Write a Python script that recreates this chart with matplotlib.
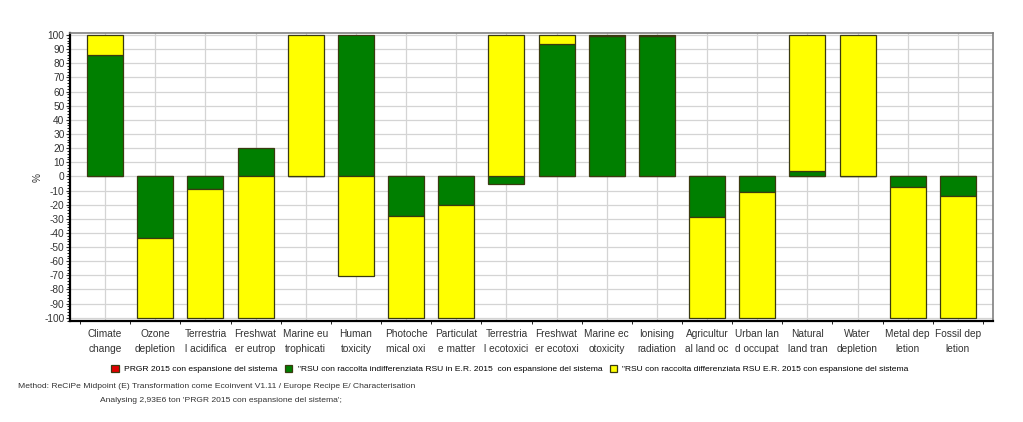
import numpy as np
import matplotlib
matplotlib.use("Agg")
import matplotlib.pyplot as plt
from matplotlib.ticker import MultipleLocator

categories = ["Climate\nchange", "Ozone\ndepletion", "Terrestria\nl acidifica",
              "Freshwat\ner eutrop", "Marine eu\ntrophicati", "Human\ntoxicity",
              "Photoche\nmical oxi", "Particulat\ne matter", "Terrestria\nl ecotoxici",
              "Freshwat\ner ecotoxi", "Marine ec\notoxicity", "Ionising\nradiation",
              "Agricultur\nal land oc", "Urban lan\nd occupat", "Natural\nland tran",
              "Water\ndepletion", "Metal dep\nletion", "Fossil dep\nletion"]

# % contributions per series
prgr = [0, 0, 0, 0, 0, 0, 0, 0, 0, 0, 0, 0, 0, 0, 0, 0, 0, 0]
rsu_indiff = [86, -43.6, -9.2, 20, 0, 100, -28.3, -20.5, -5.6,
              93.8, 99.6, 99, -28.7, -11, 3.8, 0, -7.8, -13.9]
rsu_diff = [14, -56.4, -90.8, -100, 100, -70.4, -71.7, -79.5, 100,
            6.2, 0.4, 1, -71.3, -89, 96.2, 100, -92.2, -86.1]

series = [
    ("PRGR 2015 con espansione del sistema", prgr, "#e00000"),
    ("\"RSU con raccolta indifferenziata RSU in E.R. 2015  con espansione del sistema", rsu_indiff, "#007f00"),
    ("\"RSU con raccolta differenziata RSU E.R. 2015 con espansione del sistema", rsu_diff, "#ffff00"),
]

plt.rcParams['font.family'] = ['Liberation Sans', 'DejaVu Sans']
plt.rcParams['axes.unicode_minus'] = False
fig = plt.figure(figsize=(10.23, 4.22), dpi=100)
ax = fig.add_axes([70 / 1023, 1 - 321 / 422, 923 / 1023, 288 / 422])

x = np.arange(len(categories))
pos_base = np.zeros(len(categories))
neg_base = np.zeros(len(categories))
for name, vals, col in series:
    v = np.array(vals, dtype=float)
    bottom = np.where(v >= 0, pos_base, neg_base)
    ax.bar(x, v, bottom=bottom, width=0.72, color=col, edgecolor="#3a3a10",
           linewidth=0.9, label=name, zorder=3)
    pos_base += np.where(v >= 0, v, 0)
    neg_base += np.where(v < 0, v, 0)

ax.set_xlim(-0.7, len(categories) - 0.3)
ax.set_ylim(-102.3, 101.4)
ax.yaxis.set_major_locator(MultipleLocator(10))
ax.yaxis.set_minor_locator(MultipleLocator(2))
ax.set_xticks(x)
ax.set_xticklabels(categories, fontsize=7.3, color="#333333", linespacing=1.6)
ax.set_xticks(np.arange(-0.5, len(categories), 0.5), minor=True)
ax.tick_params(axis="y", labelsize=7.3, length=3, colors="#333333", pad=1)
ax.tick_params(axis="y", which="minor", length=2)
ax.tick_params(axis="x", which="major", length=0, pad=6)
ax.tick_params(axis="x", which="minor", length=2)
ax.grid(True, color="#d4d4d4", linewidth=0.9, zorder=0)
ax.set_axisbelow(True)
ax.set_ylabel("%", fontsize=7.3, labelpad=1, color="#333333")

for side in ["top", "right"]:
    ax.spines[side].set_color("#808080")
    ax.spines[side].set_linewidth(1.2)
for side in ["left", "bottom"]:
    ax.spines[side].set_color("#000000")
    ax.spines[side].set_linewidth(1.6)

fig.legend(loc="center", bbox_to_anchor=(510 / 1023, 1 - 369 / 422), ncol=3,
           fontsize=6.1, frameon=False, handlelength=0.9, handleheight=0.9,
           columnspacing=0.9, handletextpad=0.6)

fig.text(18 / 1023, 1 - 386 / 422,
         "Method: ReCiPe Midpoint (E) Transformation come Ecoinvent V1.11 / Europe Recipe E/ Characterisation",
         fontsize=6.1, va="center", color="#333333")
fig.text(100 / 1023, 1 - 401 / 422,
         "Analysing 2,93E6 ton 'PRGR 2015 con espansione del sistema';",
         fontsize=6.1, va="center", color="#333333")

fig.savefig("out.png", dpi=100, facecolor="white")
